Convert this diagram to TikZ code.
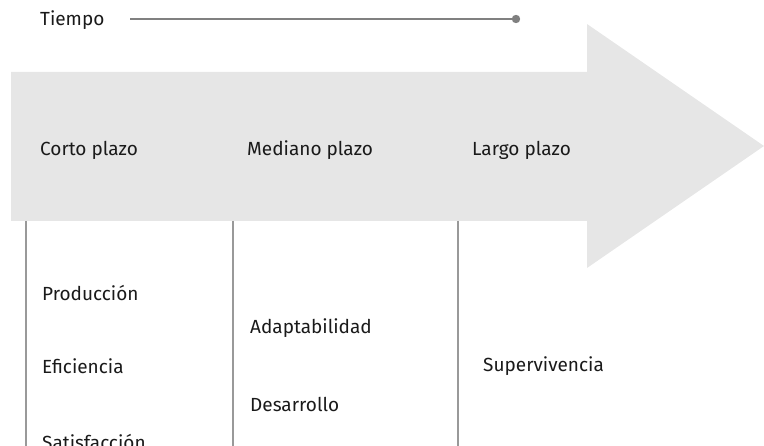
\documentclass[tikz,border=0pt]{standalone}
\usepackage{fontspec}
\setmainfont{Fira Sans}
\definecolor{arrowgray}{HTML}{E6E6E6}
\definecolor{linegray}{HTML}{999999}
\definecolor{timegray}{HTML}{808080}
\definecolor{textdark}{HTML}{1A1A1A}
\begin{document}
\begin{tikzpicture}[x=1pt,y=-1pt,
  lbl/.style={anchor=west,inner sep=0pt,text=textdark,font=\fontsize{19}{21}\selectfont},
  divider/.style={draw=linegray,line width=1.2pt},
  timeline/.style={draw=timegray,line width=1.8pt}]
\useasboundingbox (0,0) rectangle (764,446);
\clip (0,0) rectangle (764,446);
% big arrow
\fill[arrowgray] (11,72) -- (587,72) -- (587,24) -- (764,146) -- (587,268) -- (587,221) -- (11,221) -- cycle;
% time line
\node[lbl] (tiempo) at (40,20) {Tiempo};
\coordinate (tstart) at (130,19);
\coordinate (tend) at (516,19);
\draw[timeline] (tstart) -- (tend);
\fill[timegray] (tend) circle (4.2);
% headers
\node[lbl] (corto) at (40,150) {Corto plazo};
\node[lbl] (mediano) at (247,150) {Mediano plazo};
\node[lbl] (largo) at (472,150) {Largo plazo};
% dividers
\coordinate (d1t) at (26,221); \coordinate (d1b) at (26,446);
\coordinate (d2t) at (233,221); \coordinate (d2b) at (233,446);
\coordinate (d3t) at (458,221); \coordinate (d3b) at (458,446);
\draw[divider] (d1t) -- (d1b);
\draw[divider] (d2t) -- (d2b);
\draw[divider] (d3t) -- (d3b);
% items
\node[lbl] (prod) at (42,293) {Producción};
\node[lbl] (efic) at (42,366) {Eficiencia};
\node[lbl] (satis) at (42,442) {Satisfacción};
\node[lbl] (adapt) at (250,328) {Adaptabilidad};
\node[lbl] (desa) at (250,404) {Desarrollo};
\node[lbl] (super) at (483,366) {Supervivencia};
\end{tikzpicture}
\end{document}
